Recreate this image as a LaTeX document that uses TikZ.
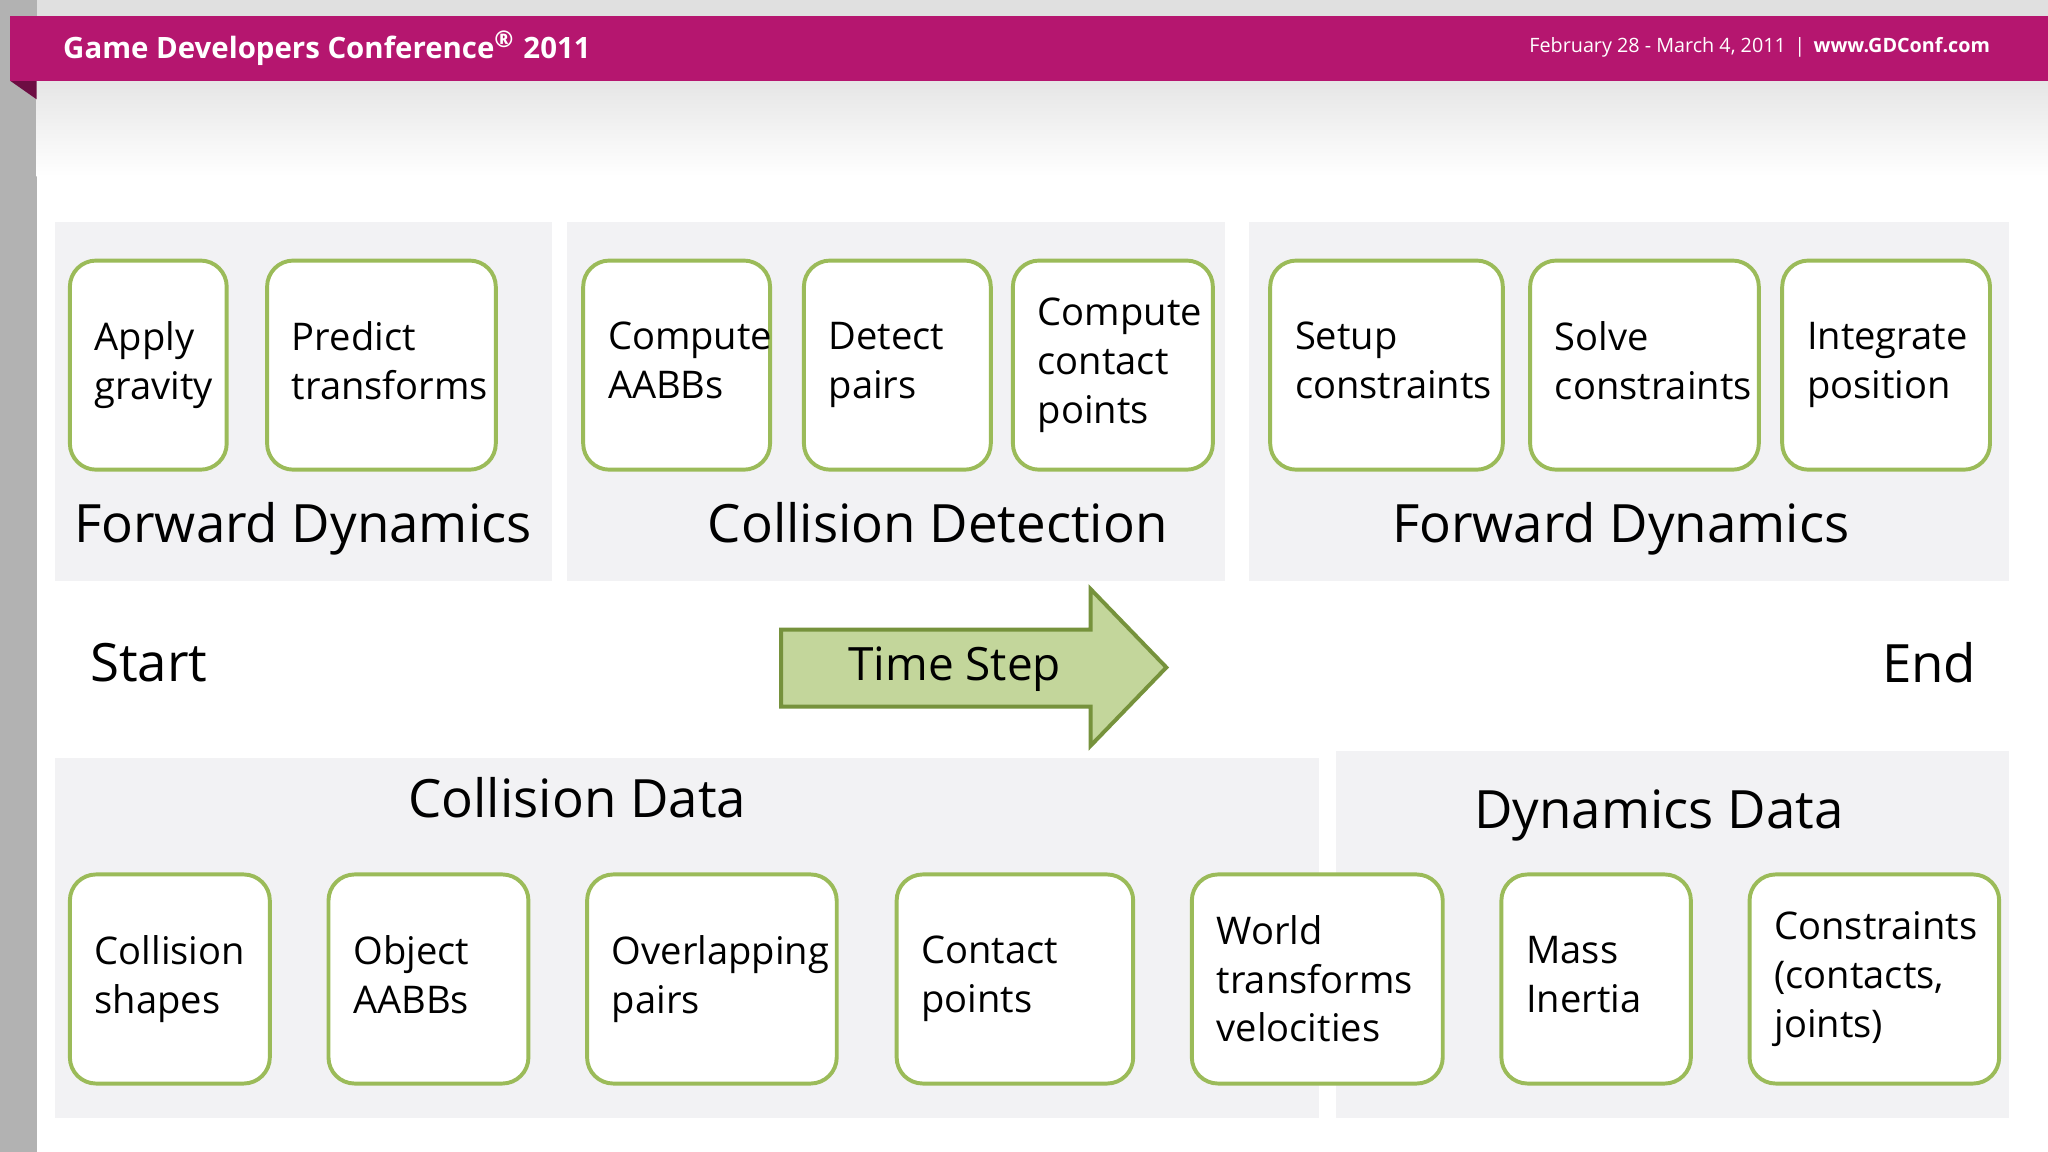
\documentclass[tikz,border=0pt]{standalone}
\usepackage{fontspec}
\setmainfont{Open Sans}
\definecolor{gdcpink}{HTML}{B5166F}
\definecolor{panel}{HTML}{F2F2F4}
\definecolor{boxline}{HTML}{9BBB59}
\definecolor{arrowfill}{HTML}{C3D69B}
\definecolor{arrowline}{HTML}{76923C}
\tikzset{
  stepbox/.style={draw=boxline, line width=0.03cm, fill=white, rounded corners=0.2cm,
    anchor=north west, align=left, inner xsep=0.19cm, minimum height=1.6cm,
    font=\fontsize{8.3}{10.6}\selectfont},
  biglabel/.style={font=\fontsize{11.5}{14}\selectfont},
  panelbg/.style={fill=panel, draw=none}
}
\begin{document}
\begin{tikzpicture}[x=0.01cm,y=-0.01cm]
\useasboundingbox (0,0) rectangle (1568,882);
\fill[white] (0,0) rectangle (1568,882);
% header
\fill[black!12] (0,0) rectangle (1568,12);
\fill[black!30] (0,0) rectangle (28,882);
\shade[top color=black!10, bottom color=white] (28,62) rectangle (1568,135);
\fill[gdcpink!60!black] (8,62) -- (28,62) -- (28,76) -- cycle;
\fill[gdcpink] (8,12) rectangle (1568,62);
\node[anchor=west, text=white, font=\bfseries\fontsize{6.4}{8}\selectfont] (conf) at (36,37) {Game Developers Conference\textsuperscript{\tiny\textregistered} 2011};
\node[anchor=east, text=white, font=\fontsize{4.3}{6}\selectfont] (date) at (1536,36) {February 28 - March 4, 2011 \,|\, \textbf{www.GDConf.com}};
% panels
\fill[panelbg] (42,170) rectangle (423,445);
\fill[panelbg] (434,170) rectangle (938,445);
\fill[panelbg] (956,170) rectangle (1538,445);
\fill[panelbg] (42,580) rectangle (1010,856);
\fill[panelbg] (1023,575) rectangle (1538,856);
% top steps
\node[stepbox, text width=0.82cm] (gravity) at (52,198) {Apply\\gravity\vphantom{p}};
\node[stepbox, text width=1.37cm] (predict) at (203,198) {Predict\\transforms\vphantom{p}};
\node[stepbox, text width=1.05cm] (aabbs) at (445,198) {Compute\\AABBs\vphantom{p}};
\node[stepbox, text width=1.05cm] (detect) at (614,198) {Detect\\pairs};
\node[stepbox, text width=1.15cm] (contact) at (774,198) {Compute\\contact\\points};
\node[stepbox, text width=1.40cm] (setup) at (971,198) {Setup\\constraints\vphantom{p}};
\node[stepbox, text width=1.37cm] (solve) at (1170,198) {Solve\\constraints\vphantom{p}};
\node[stepbox, text width=1.21cm] (integrate) at (1363,198) {Integrate\\position};
\node[biglabel] (fd1) at (232,405) {Forward Dynamics};
\node[biglabel] (cd) at (718,405) {Collision Detection\vphantom{y}};
\node[biglabel] (fd2) at (1241,405) {Forward Dynamics};
% time line
\node[biglabel] (start) at (114,512) {Start\vphantom{p}};
\node[biglabel] (end) at (1477,512) {End\vphantom{p}};
\draw[arrowline, line width=0.03cm, fill=arrowfill] (598,482) -- (835,482) -- (835,451) -- (893,511) -- (835,571) -- (835,541) -- (598,541) -- cycle;
\node[font=\fontsize{10}{12}\selectfont] (time) at (731,512) {Time Step};
% data
\node[biglabel] (cdata) at (442,611) {Collision Data};
\node[biglabel] (ddata) at (1270,624) {Dynamics Data};
\node[stepbox, text width=1.15cm] (shapes) at (52,668) {Collision\\shapes};
\node[stepbox, text width=1.15cm] (objaabb) at (250,668) {Object\\AABBs\vphantom{p}};
\node[stepbox, text width=1.53cm] (overlap) at (448,668) {Overlapping\\pairs};
\node[stepbox, text width=1.43cm] (cpoints) at (685,668) {Contact\\points};
\node[stepbox, text width=1.54cm] (world) at (911,668) {World\\transforms\\velocities};
\node[stepbox, text width=1.07cm] (mass) at (1148,668) {Mass\\Inertia\vphantom{p}};
\node[stepbox, text width=1.53cm] (constr) at (1338,668) {Constraints\\(contacts,\\joints)};
\end{tikzpicture}
\end{document}
